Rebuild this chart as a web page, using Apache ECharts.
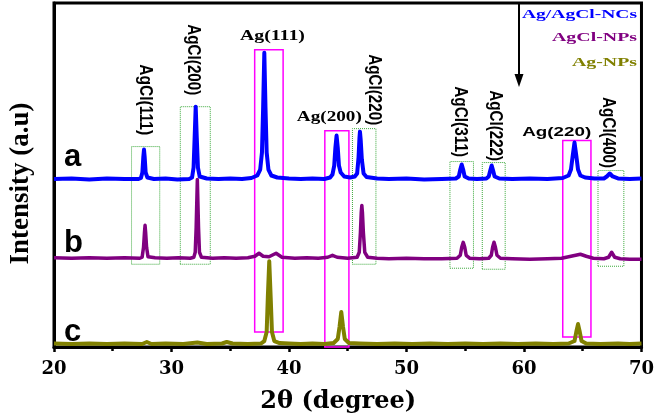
<!DOCTYPE html>
<html><head><meta charset="utf-8">
<script src="https://cdn.jsdelivr.net/npm/echarts@6/dist/echarts.min.js"></script>
<style>html,body{margin:0;padding:0;background:#fff}#c{width:657px;height:419px}</style>
</head><body><div id="c"></div>
<script>
// ---- data (2θ in degrees, intensity in arbitrary units) ----
const xTickValues = [20, 30, 40, 50, 60, 70];
const seriesNames = ['Ag/AgCl-NCs', 'AgCl-NPs', 'Ag-NPs'];
const sampleTags = ['a', 'b', 'c'];

const traceA = [
  [20,168.5],[21.5,169],[23,168],[24.5,169],[26,168.5],[27.2,168.5],
  [27.4,169.5],[27.52,175],[27.6,190],[27.66,198],[27.72,190],[27.8,175],[27.95,170],
  [28.5,168.5],[29.5,169],[30.5,168],[31.5,168.5],
  [31.75,170],[31.88,180],[31.97,210],[32.06,241],[32.15,210],[32.25,180],[32.4,171],
  [33,169],[34,168.5],[35,169],[36,168.5],[36.8,169.5],
  [37.3,172],[37.55,178],[37.7,195],[37.8,240],[37.9,295],[38.0,240],[38.1,195],[38.25,178],[38.5,172],[39,170],
  [40,169],[41,168.5],[42,169],[43,168.5],[43.5,170],
  [43.7,173],[43.85,182],[43.95,200],[44.05,212],[44.15,200],[44.25,182],[44.4,175],[44.7,171],
  [45.2,170],[45.6,171],
  [45.8,174],[45.92,190],[46.0,210],[46.04,216],[46.1,208],[46.2,188],[46.35,174],[46.6,170.5],
  [47.5,169],[48.5,168.5],[50,169],[51.5,168],[53,168.5],[54.2,169],
  [54.45,171],[54.58,178],[54.7,183],[54.82,178],[54.95,171],[55.3,169],
  [56,168.5],[56.8,169],
  [57.0,171],[57.13,177],[57.25,182],[57.37,177],[57.5,171],[57.9,169],
  [59,168.5],[60.5,169],[62,168.5],[63.3,169.5],
  [63.8,172],[64.0,178],[64.15,192],[64.3,205],[64.45,192],[64.6,178],[64.8,172],[65.2,170],
  [66,169],[66.8,169],
  [67.05,171],[67.3,174],[67.55,171],[68,169],
  [69,168.5],[70,169]
];
const traceB = [
  [20,89.5],[21.5,89],[23,89.5],[24.5,89],[26,89.5],[27.3,89],
  [27.5,90],[27.62,100],[27.7,115],[27.75,122],[27.8,115],[27.88,100],[28.0,90.5],
  [28.6,89.5],[29.6,89],[30.6,89.5],[31.6,89],[31.9,90],
  [32.02,95],[32.1,120],[32.2,168],[32.3,120],[32.38,95],[32.55,90],
  [33.5,89],[34.5,89.5],[35.5,89],[36.5,89.5],[37.1,91],[37.45,94],[37.8,91],[38.3,90.5],[38.9,94],[39.4,90],
  [40.5,89],[41.5,89.5],[42.5,89],[43.3,90],[43.7,92],[44.1,90],
  [45,89],[45.8,90],
  [45.98,95],[46.08,115],[46.15,135],[46.2,142],[46.25,135],[46.33,115],[46.45,95],[46.7,90],
  [47.5,89],[48.5,88.5],[50,89],[51.5,88.5],[53,88.5],[54.3,89],
  [54.58,92],[54.7,100],[54.83,105],[54.96,100],[55.08,92],[55.4,89],
  [56.2,88.5],[57,89],
  [57.22,92],[57.33,100],[57.45,105],[57.57,100],[57.7,92],[58,89],
  [59,88.5],[60.5,88],[62,88.5],[63.2,89],[63.8,90.5],[64.4,92],[64.8,93],[65.3,91],[65.9,89],
  [66.8,88.5],[67.2,90],[67.46,95],[67.72,90],[68.2,88.5],[69,88],[70,88]
];
const traceC = [
  [20,3.5],[21.5,3],[23,3.5],[24.5,3],[26,3.5],[27.5,3],[27.9,5],[28.3,3],[29.5,3.5],[31,3],[32.2,4.5],[33,3],
  [34.3,3.5],[34.7,5],[35.2,3.5],[36.5,3],[37.6,3.5],
  [37.9,6],[38.1,15],[38.2,50],[38.32,86],[38.44,50],[38.55,15],[38.75,6],[39.2,4],
  [40,3.5],[41,3],[42,3.5],[43,3],[43.8,4],
  [44.15,8],[44.3,20],[44.45,35],[44.6,20],[44.75,8],[45.1,4],
  [46,3.5],[47.5,3],[49,3.5],[50.5,3],[52,3.5],[53.5,3],[55,3.5],[56.5,3],[58,3.5],[59.5,3],[61,3.5],[62.5,3],[63.8,3.5],
  [64.3,6],[64.45,15],[64.6,23],[64.75,15],[64.9,6],[65.3,3.5],
  [66.5,3],[68,3.5],[69,3],[70,3.5]
];
// reflection boxes: [2θ from, 2θ to, intensity from, intensity to]
const agclBoxes = [[26.6,29.0,83,201],[30.75,33.3,83,241],[45.4,47.4,83,219],[53.7,55.7,79,186],[56.45,58.4,78,185],[66.3,68.5,81,177]];
const agBoxes = [[37.08,39.5,15,298],[43.05,45.1,0,217],[63.3,65.7,10,207]];
// reflection labels and where they sit [2θ, intensity]
const agclLabels = ['AgCl(111)','AgCl(200)','AgCl(220)','AgCl(311)','AgCl(222)','AgCl(400)'];
const agclLabelAt = [[27.77,248],[31.84,288],[47.21,258],[54.59,226],[57.56,222],[67.16,215]];
const agLabels = ['Ag(111)','Ag(200)','Ag(220)'];
const agLabelAt = [[38.59,312],[43.43,230],[62.78,215]];

// ---- styling / layout ----
const colors = ['#0000ff', '#800080', '#808000'];
const boxes = (list) => list.map(b => [{xAxis: b[0], yAxis: b[2]}, {xAxis: b[1], yAxis: b[3]}]);

const chart = echarts.init(document.getElementById('c'));
const option = {
  animation: false,
  grid: {left: 53.5, right: 14.5, top: 3, bottom: 71, show: true, borderColor: '#000', borderWidth: 3, containLabel: false},
  xAxis: {
    type: 'value', min: 20, max: 70, interval: 10,
    axisLine: {lineStyle: {color: '#000', width: 3}},
    axisTick: {show: true, inside: false, length: 5, lineStyle: {color: '#000', width: 2.5}},
    minorTick: {show: true, splitNumber: 2, length: 4, lineStyle: {color: '#000', width: 2.5}},
    splitLine: {show: false},
    axisLabel: {color: '#000', fontFamily: 'DejaVu Serif', fontWeight: 'bold', fontSize: 18, margin: 13,
      formatter: v => xTickValues.indexOf(v) >= 0 ? String(v) : ''},
    name: '2θ (degree)', nameLocation: 'middle', nameGap: 43,
    nameTextStyle: {color: '#000', fontFamily: 'DejaVu Serif', fontWeight: 'bold', fontSize: 24, padding: [0, 19, 0, 0]}
  },
  yAxis: {
    type: 'value', min: 0, max: 345,
    axisLine: {show: true, lineStyle: {color: '#000', width: 3}},
    axisTick: {show: false}, axisLabel: {show: false}, splitLine: {show: false},
    name: 'Intensity (a.u)', nameLocation: 'middle', nameGap: 19,
    nameTextStyle: {color: '#000', fontFamily: 'Liberation Serif', fontWeight: 'bold', fontSize: 27, padding: [0, 17, 0, 0]}
  },
  series: [
    {name: seriesNames[2], type: 'line', data: traceC, showSymbol: false, z: 3,
     lineStyle: {color: colors[2], width: 4, join: 'round'}, itemStyle: {color: colors[2]},
     markArea: {silent: true, z: 1, label: {show: false},
       itemStyle: {color: 'rgba(0,0,0,0)', borderColor: '#ff00ff', borderWidth: 1.5}, data: boxes(agBoxes)}},
    {name: seriesNames[1], type: 'line', data: traceB, showSymbol: false, z: 4,
     lineStyle: {color: colors[1], width: 3.5, join: 'round'}, itemStyle: {color: colors[1]},
     markArea: {silent: true, z: 1, label: {show: false},
       itemStyle: {color: 'rgba(0,0,0,0)', borderColor: '#3aa83a', borderWidth: 1, borderType: 'dotted'}, data: boxes(agclBoxes)}},
    {name: seriesNames[0], type: 'line', data: traceA, showSymbol: false, z: 5,
     lineStyle: {color: colors[0], width: 4, join: 'round'}, itemStyle: {color: colors[0]}}
  ]
};
chart.setOption(option);

// ---- text annotations ----
const ctx = document.createElement('canvas').getContext('2d');
function fit(font, text, w) { ctx.font = font; return w / ctx.measureText(text).width; }
const g = [];
const agclFont = 'bold 15px "Liberation Sans"';
agclLabels.forEach((t, i) => {
  const p = chart.convertToPixel({gridIndex: 0}, agclLabelAt[i]);
  g.push({type: 'text', x: p[0], y: p[1], rotation: -Math.PI / 2, scaleX: fit(agclFont, t, 71), scaleY: 1.2, z: 10,
    style: {text: t, font: agclFont, fill: '#000', align: 'center', verticalAlign: 'middle'}});
});
const agFonts = ['bold 14px "Liberation Serif"', 'bold 14px "Liberation Serif"', 'bold 13px "Liberation Sans"'];
const agWidths = [65, 65, 69];
agLabels.forEach((t, i) => {
  const p = chart.convertToPixel({gridIndex: 0}, agLabelAt[i]);
  g.push({type: 'text', x: p[0], y: p[1], scaleX: fit(agFonts[i], t, agWidths[i]), z: 10,
    style: {text: t, font: agFonts[i], fill: '#000', align: 'center', verticalAlign: 'middle'}});
});
const legendFont = 'bold 13px "Liberation Serif"';
const legendWidths = [115, 85, 65];
const legendY = [15, 38, 63];
seriesNames.forEach((t, i) => {
  g.push({type: 'text', x: 637, y: legendY[i], scaleX: fit(legendFont, t, legendWidths[i]), z: 10,
    style: {text: t, font: legendFont, fill: colors[i], align: 'right', verticalAlign: 'middle'}});
});
const tagY = [157, 243, 332];
sampleTags.forEach((t, i) => {
  g.push({type: 'text', x: 64, y: tagY[i], z: 10,
    style: {text: t, font: 'bold 31px "Liberation Sans"', fill: '#000', align: 'left', verticalAlign: 'middle'}});
});
// pointer arrow
g.push({type: 'line', z: 10, shape: {x1: 519, y1: 4, x2: 519, y2: 76}, style: {stroke: '#000', lineWidth: 2}});
g.push({type: 'polygon', z: 10, shape: {points: [[514.5, 74], [523.5, 74], [519, 87]]}, style: {fill: '#000'}});
chart.setOption({graphic: g});
</script></body></html>
